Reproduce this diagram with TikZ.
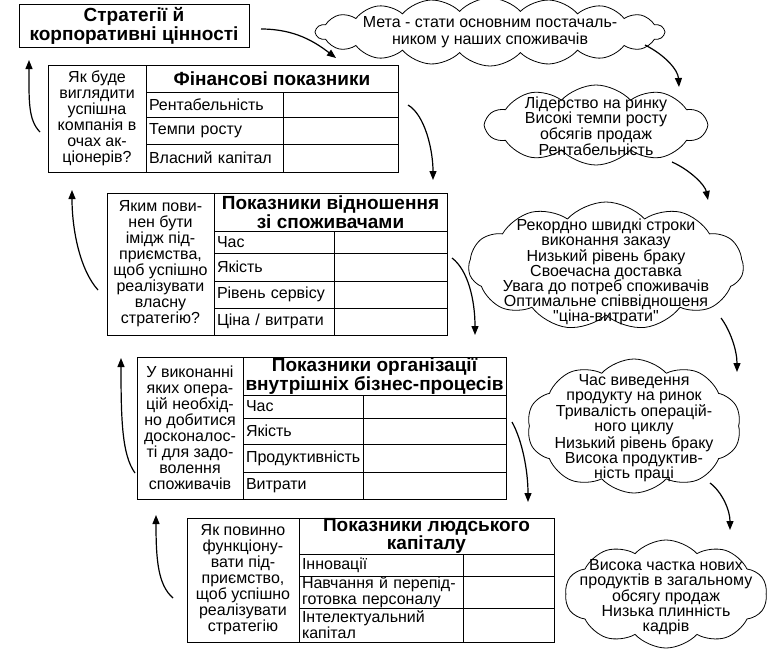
\documentclass[tikz,border=0pt]{standalone}
\usepackage{fontspec}
\setmainfont{Liberation Sans}
\usetikzlibrary{shapes.symbols,arrows.meta,positioning}

\newcommand{\bodyfont}{\fontsize{16}{16}\selectfont}
\newcommand{\cloudfont}{\fontsize{16}{15}\selectfont}
\newcommand{\headfont}{\fontsize{19}{17.5}\selectfont\bfseries}

\begin{document}
\begin{tikzpicture}[x=1pt, y=-1pt,
  cell/.style={draw, line width=0.8pt, anchor=north west, inner sep=0pt, outer sep=0pt},
  qcell/.style={cell, align=center, font=\bodyfont},
  hcell/.style={cell, align=center, font=\headfont},
  rcell/.style={cell, align=left, font=\bodyfont, inner xsep=3pt},
  cloudbox/.style={cloud, draw, line width=0.8pt, cloud puffs=#1, cloud puff arc=95, cloud ignores aspect, inner sep=0pt},
  cloudtext/.style={align=center, font=\cloudfont, inner sep=0pt},
  flow/.style={line width=1.2pt, -{Triangle[length=9pt, width=7pt]}}]

\useasboundingbox (0,0) rectangle (768,651);

% Strategy
\node[draw, line width=0.8pt, minimum width=230pt, minimum height=42pt, align=center, font=\headfont] (strat) at (134,26) {Стратегії й\\корпоративні цінності};

% Financial
\node[qcell, minimum width=98pt, minimum height=107pt] (fq) at (48,65) {Як буде\\виглядити\\успішна\\компанія в\\очах ак-\\ціонерів?};
\node[hcell, minimum width=252pt, minimum height=27pt] (fh) at (146,65) {Фінансові показники};
\node[rcell, text width=131pt, minimum height=25pt] (fr1) at (146,92) {Рентабельність};
\node[rcell, text width=131pt, minimum height=27pt] (fr2) at (146,117) {Темпи росту};
\node[rcell, text width=131pt, minimum height=28pt] (fr3) at (146,144) {Власний капітал};
\foreach \y/\h [count=\i] in {92/25, 117/27, 144/28}
    \node[cell, minimum width=115pt, minimum height=\h pt] (fv\i) at (283,\y) {};

% Customers
\node[qcell, minimum width=107pt, minimum height=142pt] (cq) at (107,193) {Яким пови-\\нен бути\\імідж під-\\приємства,\\щоб успішно\\реалізувати\\власну\\стратегію?};
\node[hcell, minimum width=233pt, minimum height=38pt] (ch) at (214,193) {Показники відношення\\зі споживачами};
\node[rcell, text width=114pt, minimum height=22pt] (cr1) at (214,231) {Час};
\node[rcell, text width=114pt, minimum height=28pt] (cr2) at (214,253) {Якість};
\node[rcell, text width=114pt, minimum height=27pt] (cr3) at (214,281) {Рівень сервісу};
\node[rcell, text width=114pt, minimum height=27pt] (cr4) at (214,308) {Ціна / витрати};
\foreach \y/\h [count=\i] in {231/22, 253/28, 281/27, 308/27}
    \node[cell, minimum width=113pt, minimum height=\h pt] (cv\i) at (334,\y) {};

% Internal processes
\node[qcell, minimum width=106pt, minimum height=142pt] (pq) at (137,357) {У виконанні\\яких опера-\\цій необхід-\\но добитися\\досконалос-\\ті для задо-\\волення\\споживачів};
\node[hcell, minimum width=263pt, minimum height=38pt] (ph) at (243,357) {Показники організації\\внутрішніх бізнес-процесів};
\node[rcell, text width=114pt, minimum height=23pt] (pr1) at (243,395) {Час};
\node[rcell, text width=114pt, minimum height=26pt] (pr2) at (243,418) {Якість};
\node[rcell, text width=114pt, minimum height=28pt] (pr3) at (243,444) {Продуктивність};
\node[rcell, text width=114pt, minimum height=27pt] (pr4) at (243,472) {Витрати};
\foreach \y/\h [count=\i] in {395/23, 418/26, 444/28, 472/27}
    \node[cell, minimum width=143pt, minimum height=\h pt] (pv\i) at (363,\y) {};

% Human capital
\node[qcell, minimum width=112pt, minimum height=124pt] (hq) at (187,518) {Як повинно\\функціону-\\вати під-\\приємство,\\щоб успішно\\реалізувати\\стратегію};
\node[hcell, minimum width=255pt, minimum height=36pt] (hh) at (299,518) {Показники людського\\капіталу};
\node[rcell, text width=158pt, minimum height=22pt] (hr1) at (299,554) {Інновації};
\node[rcell, text width=158pt, minimum height=32pt] (hr2) at (299,576) {Навчання й перепід-\\готовка персоналу};
\node[rcell, text width=158pt, minimum height=34pt] (hr3) at (299,608) {Інтелектуальний\\капітал};
\foreach \y/\h [count=\i] in {554/22, 576/32, 608/34}
    \node[cell, minimum width=91pt, minimum height=\h pt] (hv\i) at (463,\y) {};

% Clouds
\node[cloudbox=18, minimum width=348pt, minimum height=68pt] (c1) at (490,32) {};
\node[cloudtext] (t1) at (490,32) {Мета - стати основним постачаль-\\[2pt]ником у наших споживачів};
\node[cloudbox=10, minimum width=220pt, minimum height=80pt] (c2) at (596,125) {};
\node[cloudtext] (t2) at (596,126) {Лідерство на ринку\\Високі темпи росту\\обсягів продаж\\Рентабельність};
\node[cloudbox=11, minimum width=275pt, minimum height=128pt] (c3) at (606,266) {};
\node[cloudtext] (t3) at (606,272) {Рекордно швидкі строки\\виконання заказу\\Низький рівень браку\\Своечасна доставка\\Увага до потреб споживачів\\Оптимальне співвідношеня\\\textquotedbl ціна-витрати\textquotedbl};
\node[cloudbox=10, minimum width=214pt, minimum height=134pt] (c4) at (634,426) {};
\node[cloudtext] (t4) at (634,428) {Час виведення\\продукту на ринок\\Тривалість операцій-\\ного циклу\\Низький рівень браку\\Висока продуктив-\\ність праці};
\node[cloudbox=10, minimum width=202pt, minimum height=108pt] (c5) at (666,594) {};
\node[cloudtext] (t5) at (666,597) {Висока частка нових\\продуктів в загальному\\обсягу продаж\\Низька плинність\\кадрів};

% Arrow ends
\coordinate (a0s) at (261,29);  \coordinate (a0e) at (336,58);
\coordinate (a1s) at (645,45);  \coordinate (a1e) at (679,87);
\coordinate (a2s) at (672,162); \coordinate (a2e) at (708,200);
\coordinate (a3s) at (721,318); \coordinate (a3e) at (737,372);
\coordinate (a4s) at (710,483); \coordinate (a4e) at (730,530);
\coordinate (r1s) at (408,105); \coordinate (r1e) at (433,180);
\coordinate (r2s) at (452,258); \coordinate (r2e) at (475,335);
\coordinate (r3s) at (512,422); \coordinate (r3e) at (528,502);
\coordinate (l1s) at (40,132);  \coordinate (l1e) at (29,60);
\coordinate (l2s) at (98,290);  \coordinate (l2e) at (72,190);
\coordinate (l3s) at (135,473); \coordinate (l3e) at (121,358);
\coordinate (l4s) at (173,598); \coordinate (l4e) at (156,515);

\draw[flow] (a0s) .. controls (295,29) and (315,42) .. (a0e);
\draw[flow] (a1s) .. controls (665,55) and (678,70) .. (a1e);
\draw[flow] (a2s) .. controls (690,170) and (705,185) .. (a2e);
\draw[flow] (a3s) .. controls (730,330) and (737,350) .. (a3e);
\draw[flow] (a4s) .. controls (722,492) and (730,510) .. (a4e);
\draw[flow] (r1s) .. controls (425,115) and (433,150) .. (r1e);
\draw[flow] (r2s) .. controls (468,270) and (475,300) .. (r2e);
\draw[flow] (r3s) .. controls (522,440) and (528,470) .. (r3e);
\draw[flow] (l1s) .. controls (28,120) and (29,100) .. (l1e);
\draw[flow] (l2s) .. controls (80,270) and (72,230) .. (l2e);
\draw[flow] (l3s) .. controls (122,455) and (121,420) .. (l3e);
\draw[flow] (l4s) .. controls (158,585) and (156,560) .. (l4e);

\end{tikzpicture}
\end{document}
